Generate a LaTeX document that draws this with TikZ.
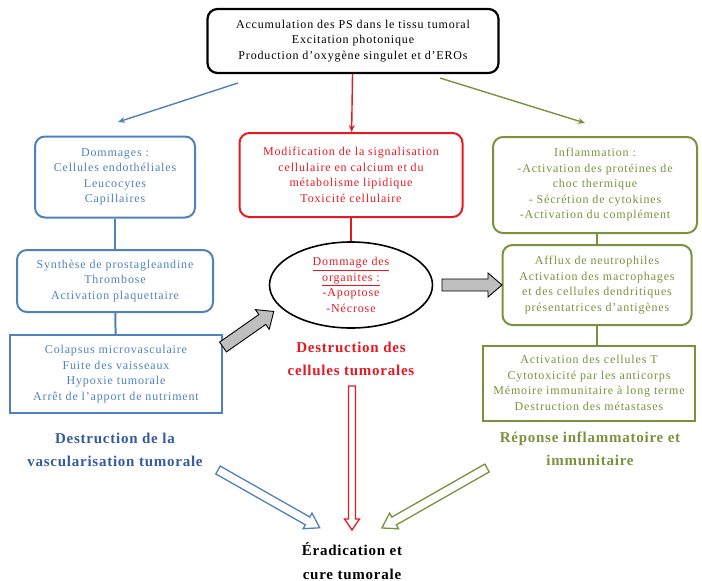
\documentclass[tikz,border=0pt]{standalone}
\usepackage{fontspec}
\setmainfont{Liberation Serif}
\usetikzlibrary{shapes.geometric,arrows.meta}
\definecolor{cblue}{RGB}{79,129,189}
\definecolor{cbluedk}{RGB}{52,90,160}
\definecolor{cred}{RGB}{230,25,35}
\definecolor{cgreen}{RGB}{119,147,60}
\newfontfamily\bodyfont[LetterSpace=7]{Liberation Serif}
\newfontfamily\headfont[LetterSpace=5]{Liberation Serif}
% style, x, y, angle, length, shaft half width, head half width, head length
\newcommand{\blockarr}[8]{%
  \begin{scope}[shift={(#2,#3)},rotate=#4]
    \draw[#1] (0,-#6) -- ({#5-#8},-#6) -- ({#5-#8},-#7) -- (#5,0) -- ({#5-#8},#7) -- ({#5-#8},#6) -- (0,#6) -- cycle;
  \end{scope}}
\begin{document}
\begin{tikzpicture}[x=1pt,y=-1pt,
  txt/.style={font=\bodyfont\fontsize{12}{15.5}\selectfont, align=center, inner sep=0pt},
  rbox/.style={txt, draw, rounded corners=10pt, line width=2pt},
  sbox/.style={txt, draw, line width=2pt},
  head/.style={font=\headfont\fontsize{15}{23.5}\selectfont\bfseries, align=center, inner sep=0pt},
  thin/.style={line width=1.4pt, -{Stealth[length=7pt,width=6pt]}},
  link/.style={line width=2pt},
  garrow/.style={draw=black, fill=black!25, line width=0.9pt, line join=miter},
  harrow/.style={fill=white, line width=1.3pt, line join=miter}
]
\useasboundingbox (0,0) rectangle (702,581);

% top
\node[rbox, draw=black, line width=2.2pt, minimum width=291pt, minimum height=64pt] (top) at (353,41)
  {Accumulation des PS dans le tissu tumoral\\Excitation photonique\\Production d’oxygène singulet et d’EROs};

% blue column
\node[rbox, draw=cblue, text=cblue, minimum width=160pt, minimum height=81pt] (b1) at (115,177)
  {Dommages :\\Cellules endothéliales\\Leucocytes\\Capillaires};
\node[rbox, draw=cblue, text=cblue, minimum width=196pt, minimum height=62pt] (b2) at (115,281)
  {Synthèse de prostagleandine\\Thrombose\\Activation plaquettaire};
\node[sbox, draw=cblue, text=cblue, minimum width=212pt, minimum height=78pt] (b3) at (116,374)
  {Colapsus microvasculaire\\Fuite des vaisseaux\\Hypoxie tumorale\\Arrêt de l’apport de nutriment};
\node[head, text=cbluedk] (bh) at (115,450) {Destruction de la\\vascularisation tumorale};
\draw[link, cblue] (b1) -- (b2);
\draw[link, cblue] (b2) -- (b3);

% red column
\node[rbox, draw=cred, text=cred, minimum width=223pt, minimum height=84pt] (r1) at (351,175)
  {Modification de la signalisation\\cellulaire en calcium et du\\métabolisme lipidique\\Toxicité cellulaire};
\node[ellipse, draw=black, line width=1.6pt, text=cred, minimum width=163pt, minimum height=86pt,
  txt] (el) at (351,285)
  {\underline{Dommage des}\\\underline{organites :}\\-Apoptose\\-Nécrose};
\node[head, text=cred] (rh) at (351,359) {Destruction des\\cellules tumorales};
\draw[link, cred] (r1) -- (el);

% green column
\node[rbox, draw=cgreen, text=cgreen, minimum width=204pt, minimum height=96pt] (g1) at (595,185)
  {Inflammation :\\-Activation des protéines de\\choc thermique\\- Sécrétion de cytokines\\-Activation du complément};
\node[rbox, draw=cgreen, text=cgreen, minimum width=189pt, minimum height=80pt] (g2) at (597,285)
  {Afflux de neutrophiles\\Activation des macrophages\\et des cellules dendritiques\\présentatrices d’antigènes};
\node[sbox, draw=cgreen, text=cgreen, minimum width=212pt, minimum height=75pt] (g3) at (589,383)
  {Activation des cellules T\\Cytotoxicité par les anticorps\\Mémoire immunitaire à long terme\\Destruction des métastases};
\node[head, text=cgreen] (gh) at (590,449) {Réponse inflammatoire et\\immunitaire};
\draw[link, cgreen] (g1.south -| g2) -- (g2);
\draw[link, cgreen] (g2) -- (g3.north -| g2);

% final
\node[head, text=black] (fin) at (352,561) {Éradication et\\cure tumorale};

% thin arrows from top
\coordinate (tb) at (238,83);
\coordinate (tbe) at (118,122);
\coordinate (tg) at (440,78);
\coordinate (tge) at (585,123);
\draw[thin, cblue] (tb) -- (tbe);
\draw[thin, cgreen] (tg) -- (tge);
\draw[thin, cred] (top) -- (r1);

% grey block arrows
\blockarr{garrow}{223}{347}{35}{62}{6}{12}{14}
\blockarr{garrow}{442}{285}{0}{60}{6}{12}{14}

% hollow arrows
\blockarr{harrow, draw=cred}{352}{386}{-90}{144}{3.5}{7.5}{11}
\blockarr{harrow, draw=cblue}{218}{470}{-29.6}{117}{4.5}{9}{14}
\blockarr{harrow, draw=cgreen}{487}{468}{-150.3}{121}{4.5}{9}{14}
\end{tikzpicture}
\end{document}
